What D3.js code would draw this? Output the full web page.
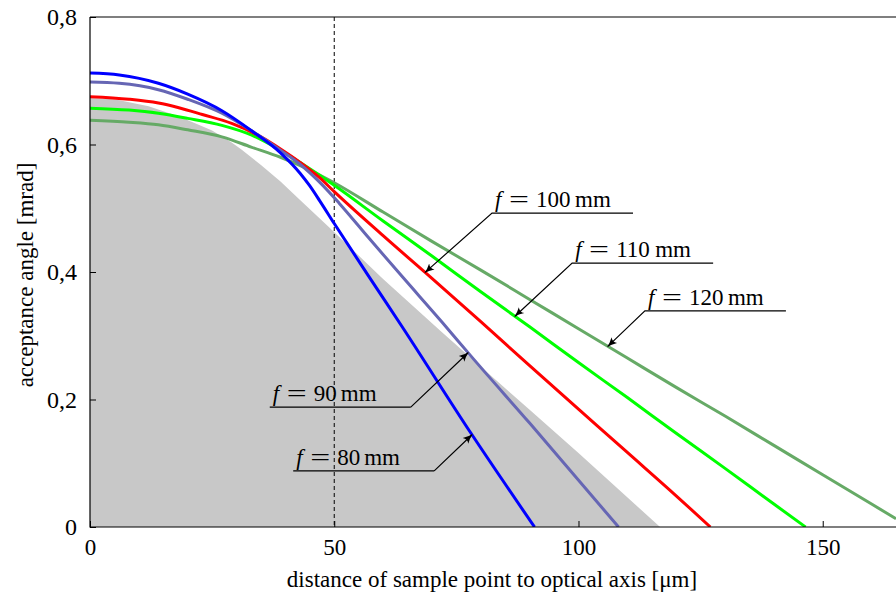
<!DOCTYPE html>
<html>
<head>
<meta charset="utf-8">
<script src="https://cdn.jsdelivr.net/npm/d3@7"></script>
<style>
  body { margin: 0; background: #fff; }
  text { font-family: "Liberation Serif", "DejaVu Serif", serif; fill: #000; }
</style>
</head>
<body>
<div id="chart"></div>
<script>
var width = 896,
    height = 594;

// focal length of each curve
var focal = [80, 90, 100, 110, 120];

// distance of sample point to optical axis [um] and acceptance angle [mrad]
var distF80  = [0, 6, 14, 20, 27, 33, 39, 43, 45, 47, 50, 57, 64, 78, 91];
var angF80   = [0.712, 0.709, 0.696, 0.679, 0.653, 0.622, 0.587, 0.555, 0.535, 0.512, 0.476, 0.394, 0.313, 0.147, 0];
var distF90  = [0, 6, 14, 20, 27, 33, 39, 43, 47, 51, 57, 64, 72, 78, 90, 108.2];
var angF90   = [0.698, 0.696, 0.686, 0.671, 0.649, 0.622, 0.591, 0.569, 0.541, 0.508, 0.454, 0.392, 0.322, 0.268, 0.163, 0];
var distF100 = [0, 8, 14, 18, 23, 29, 35, 39, 43, 47, 50, 60, 70, 80, 90, 100, 110, 120, 127];
var angF100  = [0.675, 0.671, 0.665, 0.658, 0.647, 0.633, 0.612, 0.593, 0.572, 0.548, 0.526, 0.457, 0.390, 0.322, 0.253, 0.185, 0.117, 0.049, 0];
var distF110 = [0, 8, 14, 20, 27, 33, 39, 45, 50, 60, 70, 80, 90, 100, 110, 120, 130, 140, 146.5];
var angF110  = [0.657, 0.654, 0.649, 0.641, 0.630, 0.615, 0.591, 0.562, 0.536, 0.480, 0.425, 0.369, 0.314, 0.258, 0.203, 0.147, 0.092, 0.036, 0];
var distF120 = [0, 8, 14, 20, 27, 33, 39, 45, 50, 60, 70, 80, 90, 100, 110, 120, 130, 140, 150, 160, 165];
var angF120  = [0.638, 0.635, 0.631, 0.623, 0.612, 0.596, 0.580, 0.560, 0.540, 0.494, 0.448, 0.403, 0.357, 0.311, 0.265, 0.219, 0.174, 0.128, 0.082, 0.036, 0.013];

// grey shaded region
var distGrey = [0, 5, 12, 18.5, 25, 29, 31, 35, 39, 43, 49, 60, 72, 78, 90, 100, 116.7];
var angGrey  = [0.673, 0.671, 0.660, 0.643, 0.622, 0.603, 0.592, 0.568, 0.542, 0.513, 0.470, 0.389, 0.306, 0.265, 0.184, 0.116, 0];

var colors = ["#0000ff", "#6666b4", "#ff0000", "#00ff00", "#66aa66"];

// where each label arrow points (distance on curve) and where its underline starts
var tipDist   = [78.2, 77.4, 68.6, 87.0, 106.0];
var labelDist = [41.6, 36.8, 82.3, 98.7, 113.6];
var labelAng  = [0.088, 0.188, 0.4925, 0.414, 0.339];

var xTicks = [0, 50, 100, 150];
var yTicks = [0, 0.2, 0.4, 0.6, 0.8];

var series = [
  { f: focal[0], dist: distF80,  ang: angF80 },
  { f: focal[1], dist: distF90,  ang: angF90 },
  { f: focal[2], dist: distF100, ang: angF100 },
  { f: focal[3], dist: distF110, ang: angF110 },
  { f: focal[4], dist: distF120, ang: angF120 }
];
series.forEach(function(s, i) {
  s.color = colors[i];
  s.points = s.dist.map(function(d, j) { return [d, s.ang[j]]; });
});

var x = d3.scaleLinear().domain([0, 165]).range([90, 896]);
var y = d3.scaleLinear().domain([0, 0.8]).range([527, 17]);

var svg = d3.select("#chart")
  .append("svg")
    .attr("width", width)
    .attr("height", height);

svg.append("defs").append("clipPath")
    .attr("id", "clip")
  .append("rect")
    .attr("x", 90).attr("y", 17)
    .attr("width", 806).attr("height", 510);

svg.select("defs").append("marker")
    .attr("id", "arrow")
    .attr("viewBox", "0 -5 10 10")
    .attr("refX", 9).attr("refY", 0)
    .attr("markerWidth", 10).attr("markerHeight", 10)
    .attr("markerUnits", "userSpaceOnUse")
    .attr("orient", "auto")
  .append("path")
    .attr("d", "M0,-4 Q5,-1 10,0 Q5,1 0,4 Q3,0 0,-4Z")
    .attr("fill", "#000");

var plot = svg.append("g").attr("clip-path", "url(#clip)");

// grey area
var greyPts = distGrey.map(function(d, i) { return [d, angGrey[i]]; });
plot.append("path")
  .datum(greyPts)
  .attr("d", d3.area()
    .x(function(d) { return x(d[0]); })
    .y0(y(0))
    .y1(function(d) { return y(d[1]); }))
  .attr("fill", "#c8c8c8");

// dashed line at 50 um
plot.append("line")
  .attr("x1", x(50)).attr("x2", x(50))
  .attr("y1", y(0.8)).attr("y2", y(0))
  .attr("stroke", "#000")
  .attr("stroke-width", 1)
  .attr("stroke-dasharray", "4,3");

var line = d3.line()
  .x(function(d) { return x(d[0]); })
  .y(function(d) { return y(d[1]); })
  .curve(d3.curveMonotoneX);

plot.selectAll(".curve")
  .data(series.slice().reverse())
  .enter()
  .append("path")
  .attr("class", "curve")
  .attr("d", function(d) { return line(d.points); })
  .attr("fill", "none")
  .attr("stroke", function(d) { return d.color; })
  .attr("stroke-width", 3);

// frame
svg.append("path")
  .attr("d", "M" + x(0) + "," + y(0.8) + "V" + y(0) + "H" + x(165) + "M" + x(0) + "," + y(0.8) + "H" + x(165))
  .attr("fill", "none")
  .attr("stroke", "#000")
  .attr("stroke-width", 1.2);

// axes
var locale = d3.formatLocale({ decimal: ",", thousands: ".", grouping: [3], currency: ["", ""] });
var yFmt = function(d) { return d === 0 ? "0" : locale.format(".1f")(d); };

var xAxis = svg.append("g")
  .attr("transform", "translate(0," + y(0) + ")")
  .call(d3.axisBottom(x).tickValues(xTicks).tickSizeInner(-6).tickSizeOuter(0).tickPadding(12).tickFormat(d3.format("d")));
var yAxis = svg.append("g")
  .attr("transform", "translate(" + x(0) + ",0)")
  .call(d3.axisLeft(y).tickValues(yTicks).tickSizeInner(-6).tickSizeOuter(0).tickPadding(13).tickFormat(yFmt));

[xAxis, yAxis].forEach(function(ax, i) {
  ax.select(".domain").remove();
  ax.selectAll("line").attr("stroke", "#000");
  ax.selectAll("text")
    .attr("font-family", "Liberation Serif")
    .attr("font-size", i === 0 ? 23 : 24)
    .attr("fill", "#000");
});

svg.append("text")
  .attr("x", 492).attr("y", 587)
  .attr("text-anchor", "middle")
  .attr("font-size", 23)
  .text("distance of sample point to optical axis [\u03bcm]");

svg.append("text")
  .attr("transform", "translate(33," + (y(0.4) + 3) + ") rotate(-90)")
  .attr("text-anchor", "middle")
  .attr("font-size", 23)
  .text("acceptance angle [mrad]");

// labels with leader arrows
function angAt(s, d) {
  var i = d3.bisectLeft(s.dist, d);
  if (i <= 0) return s.ang[0];
  var t = (d - s.dist[i - 1]) / (s.dist[i] - s.dist[i - 1]);
  return s.ang[i - 1] + t * (s.ang[i] - s.ang[i - 1]);
}

var ulen = 141;
series.forEach(function(s, i) {
  var lx = x(labelDist[i]), ly = y(labelAng[i]);
  var tx = x(tipDist[i]), ty = y(angAt(s, tipDist[i]));
  var tipRight = tx > lx + ulen / 2;
  var jx = tipRight ? lx + ulen : lx;
  var g = svg.append("g");
  g.append("path")
    .attr("d", "M" + (lx + ulen) + "," + ly + "H" + lx + (tipRight ? "M" + jx + "," + ly : "") + "L" + tx + "," + ty)
    .attr("fill", "none")
    .attr("stroke", "#000")
    .attr("stroke-width", 1.2)
    .attr("marker-end", "url(#arrow)");
  var t = g.append("text")
    .attr("x", lx + 3).attr("y", ly - 6)
    .attr("font-size", 23);
  t.append("tspan").attr("font-style", "italic").text("f");
  t.append("tspan").attr("x", lx + 17)
    .attr("textLength", 20).attr("lengthAdjust", "spacingAndGlyphs")
    .text("=");
  t.append("tspan").attr("x", lx + 44).text(s.f);
  t.append("tspan").attr("x", lx + (s.f >= 100 ? 83 : 71)).text("mm");
});
</script>
</body>
</html>
